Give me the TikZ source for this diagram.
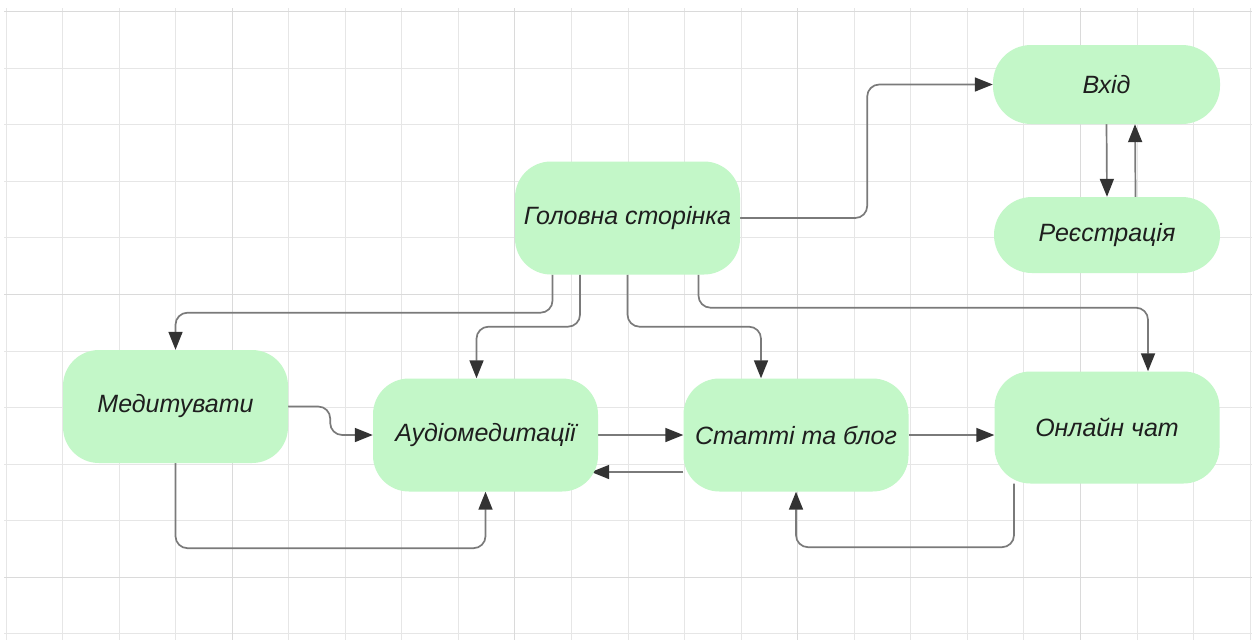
\documentclass[tikz,border=0pt]{standalone}
\usepackage{fontspec}
\setmainfont{Liberation Sans}
\usetikzlibrary{arrows.meta}

\definecolor{boxgreen}{HTML}{C3F7C8}
\definecolor{textdark}{HTML}{1E1E1E}
\definecolor{linegray}{HTML}{7A7A7A}
\definecolor{tipdark}{HTML}{333333}
\definecolor{gridminor}{HTML}{E6E6E6}
\definecolor{gridmajor}{HTML}{DADADA}

\pgfdeclarelayer{grid}
\pgfdeclarelayer{edges}
\pgfsetlayers{grid,edges,main}

\tikzset{
  stepbox/.style={fill=boxgreen, draw=none, rounded corners=36pt,
    minimum width=225pt, minimum height=113pt, inner sep=0pt,
    text=textdark, font=\itshape\fontsize{25}{30}\selectfont},
  pillbox/.style={stepbox, rounded corners=38pt},
  conn/.style={draw=linegray, line width=1.7pt, rounded corners=12pt,
    -{Triangle[length=18pt,width=14pt,color=tipdark]}},
  gminor/.style={draw=gridminor, line width=1pt},
  gmajor/.style={draw=gridmajor, line width=1pt}
}

\begin{document}
\begin{tikzpicture}[x=1pt,y=-1pt]
\useasboundingbox (0,0) rectangle (1257,640);

% background grid
\begin{pgfonlayer}{grid}
  \fill[white] (0,0) rectangle (1257,640);
  \foreach \k in {0,...,22} {
    \pgfmathsetmacro\gx{6+56.55*\k}
    \draw[gminor] (\gx,8) -- (\gx,640);
  }
  \foreach \k in {0,...,11} {
    \pgfmathsetmacro\gy{11.7+56.55*\k}
    \draw[gminor] (4,\gy) -- (1252,\gy);
  }
  \foreach \gx in {232.2,514.95,797.7,1080.45}
    \draw[gmajor] (\gx,8) -- (\gx,640);
  \foreach \gy in {11.7,294.45,577.2}
    \draw[gmajor] (4,\gy) -- (1252,\gy);
\end{pgfonlayer}

% pages
\node[stepbox] (home) at (627.5,218) {Головна сторінка};
\node[pillbox, minimum width=227pt, minimum height=79pt] (login) at (1106.5,84.5) {Вхід};
\node[pillbox, minimum width=226pt, minimum height=76pt] (reg) at (1107,235) {Реєстрація};
\node[stepbox] (med) at (175.5,406.5) {Медитувати};
\node[stepbox] (audio) at (485.5,435) {Аудіомедитації};
\node[stepbox] (blog) at (796,435) {Статті та блог};
\node[stepbox, minimum height=112pt] (chat) at (1107,427.5) {Онлайн чат};

% transitions
\begin{pgfonlayer}{edges}
  \draw[conn] (home.east) -- ++(127,0) |- (login.west);
  \draw[conn] (login.south) -- (reg.north);
  \draw[conn] ([xshift=28.5]reg.north) -- ([xshift=28.5]login.south);

  \draw[conn] ([xshift=-75]home.south) -- ++(0,38) -| (med.north);
  \draw[conn] ([xshift=-47.5]home.south) -- ++(0,52) -| ([xshift=-9]audio.north);
  \draw[conn] (home.south) -- ++(0,52) -| ([xshift=-35]blog.north);
  \draw[conn] ([xshift=71]home.south) -- ++(0,33) -| ([xshift=41]chat.north);

  \draw[conn] (med.east) -- ++(42,0) |- (audio.west);
  \draw[conn] (med.south) -- ++(0,85) -| (audio.south);

  \draw[conn] (audio.east) -- (blog.west);
  \draw[conn] ([yshift=-37]blog.west) -- ([xshift=-7,yshift=-37]audio.east);
  \draw[conn] (blog.east) -- (chat.west |- blog.east);
  \draw[conn] ([xshift=-93]chat.south) -- ++(0,63.5) -| (blog.south);
\end{pgfonlayer}
\end{tikzpicture}
\end{document}
